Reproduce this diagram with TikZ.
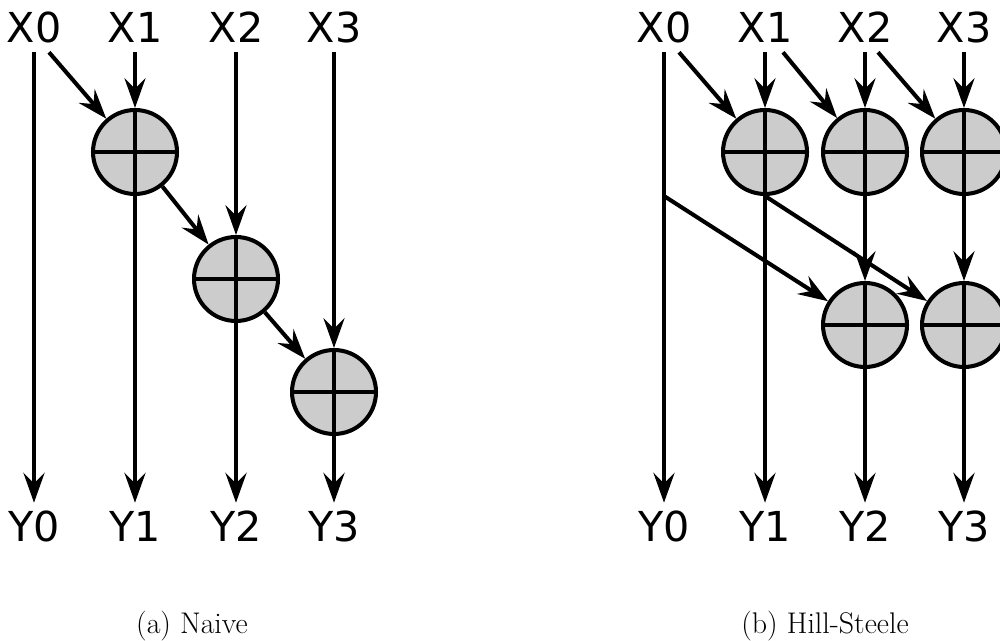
\documentclass[tikz,border=0pt]{standalone}
\usepackage{fontspec}
\newfontfamily\wirefont{DejaVu Sans}
\usetikzlibrary{arrows.meta,calc}

\begin{document}
\begin{tikzpicture}[x=0.02cm, y=-0.02cm,
  wire/.style={line width=2.3pt, -{Stealth[length=17pt, width=12pt, inset=6pt]}},
  adder/.style={circle, draw, line width=2.3pt, fill=black!20, minimum size=1.68cm, inner sep=0pt,
    path picture={\draw[line width=2.3pt]
      (path picture bounding box.west) -- (path picture bounding box.east)
      (path picture bounding box.north) -- (path picture bounding box.south);}},
  io/.style={font=\wirefont\fontsize{23.5}{28}\selectfont, text height=17pt, text depth=0pt, inner sep=0.18cm},
  subcap/.style={font=\fontsize{17}{20}\selectfont, anchor=base, inner sep=0pt}]
  \useasboundingbox (0,0) rectangle (1000,641);
  % (a) Naive
  \node[io] (xa0) at (34,28) {X0};
  \node[io] (xa1) at (135,28) {X1};
  \node[io] (xa2) at (236,28) {X2};
  \node[io] (xa3) at (334,28) {X3};
  \node[io] (ya0) at (34,527) {Y0};
  \node[io] (ya1) at (135,527) {Y1};
  \node[io] (ya2) at (236,527) {Y2};
  \node[io] (ya3) at (334,527) {Y3};
  \node[adder] (a1) at (135,152) {};
  \node[adder] (a2) at (236,279) {};
  \node[adder] (a3) at (334,392) {};
  \draw[wire] (xa0) -- (ya0);
  \draw[wire] ($(xa0.south)+(15,0)$) -- (a1);
  \draw[wire] (xa1) -- (a1);
  \draw[wire] (a1) -- (ya1);
  \draw[wire] (a1) -- (a2);
  \draw[wire] (xa2) -- (a2);
  \draw[wire] (a2) -- (ya2);
  \draw[wire] (a2) -- (a3);
  \draw[wire] (xa3) -- (a3);
  \draw[wire] (a3) -- (ya3);
  \node[subcap] (capa) at (192,633) {(a) Naive};
  % (b) Hill-Steele
  \node[io] (xb0) at (664,28) {X0};
  \node[io] (xb1) at (765,28) {X1};
  \node[io] (xb2) at (865,28) {X2};
  \node[io] (xb3) at (964,28) {X3};
  \node[io] (yb0) at (664,527) {Y0};
  \node[io] (yb1) at (765,527) {Y1};
  \node[io] (yb2) at (865,527) {Y2};
  \node[io] (yb3) at (964,527) {Y3};
  \node[adder] (h1) at (765,152) {};
  \node[adder] (h2) at (865,152) {};
  \node[adder] (h3) at (964,152) {};
  \node[adder] (h4) at (865,325) {};
  \node[adder] (h5) at (964,325) {};
  \draw[wire] (xb0) -- (yb0);
  \draw[wire] ($(xb0.south)+(15,0)$) -- (h1);
  \draw[wire] ($(xb1.south)+(18,0)$) -- (h2);
  \draw[wire] ($(xb2.south)+(13,0)$) -- (h3);
  \draw[wire] (xb1) -- (h1);
  \draw[wire] (h1) -- (yb1);
  \draw[wire] (xb2) -- (h2);
  \draw[wire] (h2) -- (h4);
  \draw[wire] (h4) -- (yb2);
  \draw[wire] (xb3) -- (h3);
  \draw[wire] (h3) -- (h5);
  \draw[wire] (h5) -- (yb3);
  \draw[wire] (xb0.south |- h1.south) -- (h4);
  \draw[wire] (h1.south) -- (h5);
  \node[subcap] (capb) at (825,633) {(b) Hill-Steele};
\end{tikzpicture}
\end{document}
